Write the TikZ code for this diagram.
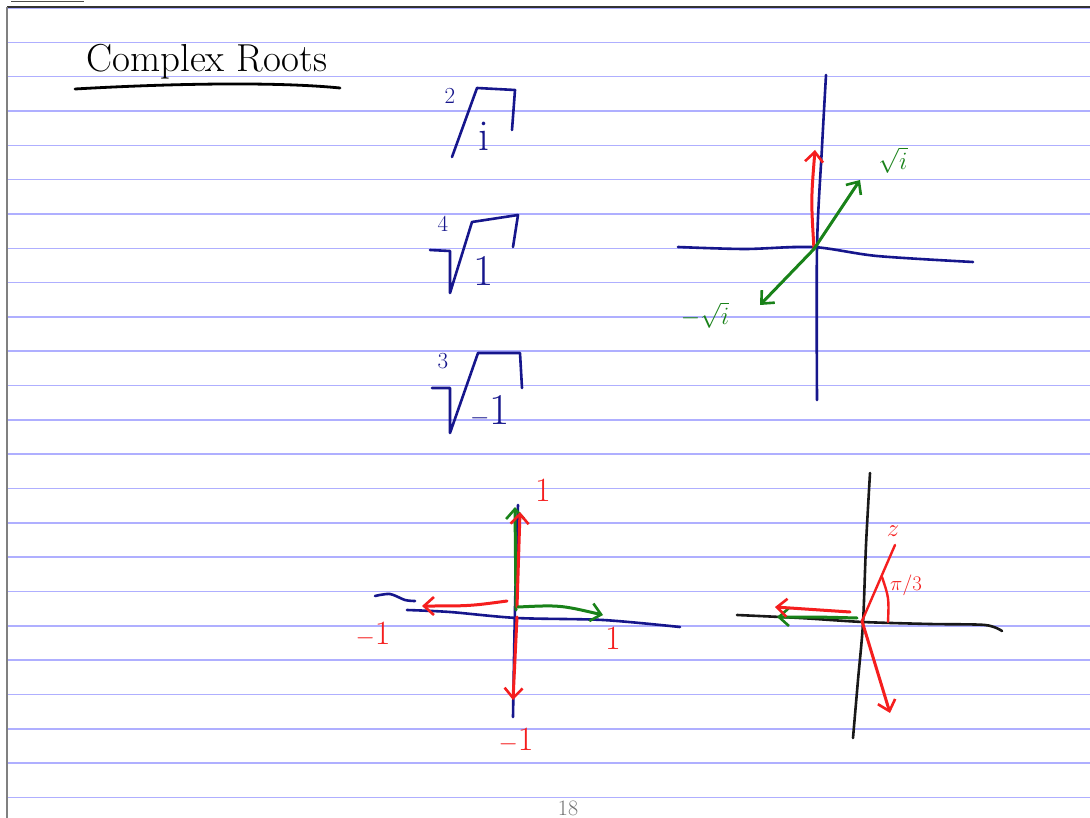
\documentclass[tikz,border=0pt]{standalone}
\usetikzlibrary{arrows.meta}
\definecolor{navy}{RGB}{22,22,140}
\definecolor{pred}{RGB}{245,30,30}
\definecolor{pgreen}{RGB}{25,130,25}
\definecolor{rulecol}{RGB}{175,175,255}
\tikzset{
  pen/.style={line width=2.6pt,line cap=round,line join=round},
  navypen/.style={pen,draw=navy},
  redpen/.style={pen,draw=pred,line width=3pt},
  greenpen/.style={pen,draw=pgreen,line width=3pt},
  blackpen/.style={pen,draw=black!90},
  tip/.style={-{Straight Barb[length=10pt,width=18pt,line width=2.6pt]}},
  ruled/.style={draw=rulecol,line width=1.6pt},
  hand/.style={inner sep=0pt,outer sep=0pt},
  titletext/.style={hand,font=\fontsize{39}{42}\selectfont},
  idx/.style={hand,text=navy,font=\fontsize{23}{25}\selectfont},
  rad/.style={hand,text=navy,font=\fontsize{44}{48}\selectfont,anchor=base},
  glabel/.style={hand,text=pgreen,font=\fontsize{28}{32}\selectfont},
  rlabel/.style={hand,text=pred,font=\fontsize{34}{38}\selectfont},
}
\begin{document}
\begin{tikzpicture}[x=1pt,y=-1pt]
\useasboundingbox (0,0) rectangle (1090,818);
\fill[white] (0,0) rectangle (1090,818);
% ruled paper
\foreach \k in {0,...,23} \draw[ruled] (7,{8+34.33*\k}) -- (1090,{8+34.33*\k});
\draw[line width=1.5pt,black!80] (7,7) -- (1090,7);
\draw[line width=2pt,gray] (7,7) -- (7,818);
\draw[line width=1.5pt,black!70] (11,1.5) -- (84,1.5);
% title
\node[titletext] (title) at (207,62) {Complex Roots};
\draw[pen,line width=2.8pt] (75,89) .. controls (180,83) and (280,82) .. (340,88);
% radicals
\draw[navypen] (452,157) -- (477,88) -- (515,90) -- (512,130);
\node[idx] (i2) at (450,96) {2};
\node[rad] (r1) at (484,151) {i};
\draw[navypen] (430,250) -- (450,251) -- (450,293) -- (472,222) -- (518,215) -- (513,247);
\node[idx] (i4) at (443,224) {4};
\node[rad] (r2) at (484,286) {1};
\draw[navypen] (432,388) -- (450,388) -- (450,433) -- (478,353) -- (520,353) -- (522,388);
\node[idx] (i3) at (443,361) {3};
\node[rad] (r3) at (490,424) {$-$1};
% top-right plot
\draw[navypen] plot[smooth] coordinates {(826,75) (822,147) (817,247) (817,400)};
\draw[navypen] plot[smooth] coordinates {(678,247) (745,249) (813,247) (877,256) (973,262)};
\coordinate (O1) at (814,249);
\draw[redpen,tip] (O1) .. controls (811,200) .. (815,150);
\draw[greenpen,tip] (O1) -- (860,180);
\draw[greenpen,tip] (O1) -- (760,305);
\node[glabel] (sq1) at (893,160) {$\sqrt{i}$};
\node[glabel] (sq2) at (705,315) {$-\sqrt{i}$};
% bottom-left plot
\draw[navypen] plot[smooth] coordinates {(375,596) (390,594) (405,600) (415,601)};
\draw[navypen] plot[smooth] coordinates {(407,610) (450,612) (517,618) (603,620) (680,627)};
\draw[navypen] (518,505) .. controls (515,600) .. (513,717);
\coordinate (O2) at (516,610);
\draw[greenpen,tip] (O2) -- (515,507);
\draw[redpen,tip] (517,607) -- (520,512);
\draw[redpen,tip] (517,617) -- (513,700);
\draw[redpen,tip] (507,601) .. controls (470,606) .. (422,606);
\draw[greenpen,tip] (518,607) .. controls (560,605) .. (603,615);
\node[rlabel] (p1) at (543,490) {1};
\node[rlabel] (m1a) at (373,634) {$-$1};
\node[rlabel] (m1b) at (516,740) {$-$1};
\node[rlabel] (p1b) at (613,638) {1};
% bottom-right plot
\draw[blackpen] plot[smooth] coordinates {(870,473) (866,545) (863,623) (858,680) (853,738)};
\draw[blackpen] plot[smooth] coordinates {(737,615) (800,618) (863,622) (930,624) (985,625) (1002,631)};
\coordinate (O3) at (862,621);
\draw[greenpen,tip] (857,618) .. controls (820,617) .. (777,617);
\draw[redpen,tip] (850,612) -- (775,607);
\draw[redpen,line width=2.4pt] (O3) -- (895,545);
\draw[redpen,line width=2.4pt] (888,622) .. controls (889,598) .. (882,577);
\draw[redpen,tip] (O3) -- (890,713);
\node[hand,text=pred,font=\fontsize{28}{30}\selectfont] (z) at (893,531) {$z$};
\node[hand,text=pred,font=\fontsize{20}{22}\selectfont] (ang) at (906,585) {$\pi/3$};
% page number
\node[hand,text=black!55,font=\fontsize{22}{24}\selectfont] (pg) at (568,808) {18};
\end{tikzpicture}
\end{document}
